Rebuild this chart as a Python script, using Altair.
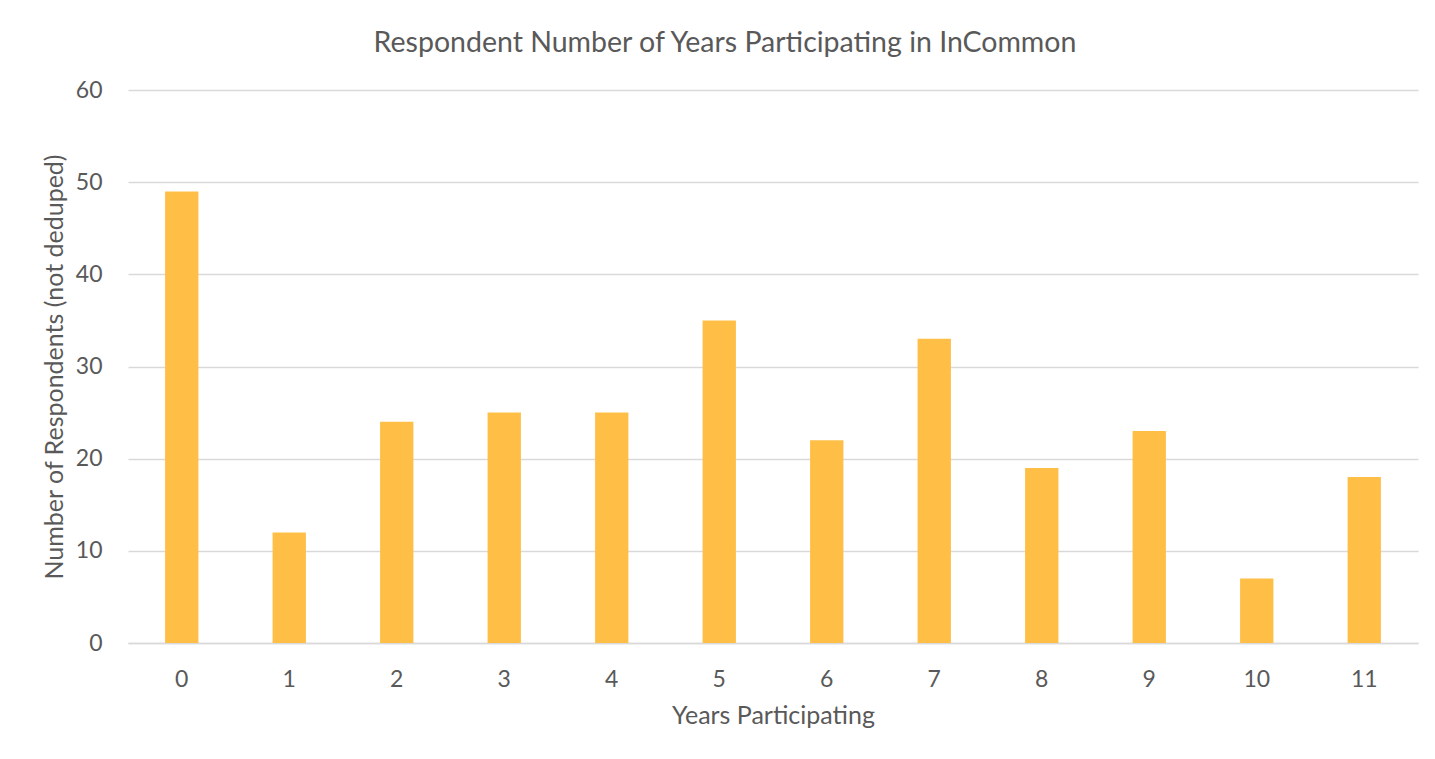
import altair as alt
import pandas as pd

years = ["0", "1", "2", "3", "4", "5", "6", "7", "8", "9", "10", "11"]
respondents = [49, 12, 24, 25, 25, 35, 22, 33, 19, 23, 7, 18]

df = pd.DataFrame({"year": years, "count": respondents})

FONT = "Lato"
TXT = "#595959"

chart = alt.Chart(df).mark_bar(color="#FFBF47").encode(
    x=alt.X("year:N", sort=years,
            scale=alt.Scale(paddingInner=0.69, paddingOuter=0.345),
            axis=alt.Axis(title="Years Participating", labelAngle=0, labelPadding=25,
                          ticks=False, domainColor="#D9D9D9", domainWidth=1.5,
                          labelFontSize=23, labelColor=TXT, labelFont=FONT,
                          titleFontSize=25, titleColor=TXT, titleFont=FONT,
                          titleFontWeight="normal", titlePadding=12)),
    y=alt.Y("count:Q", scale=alt.Scale(domain=[0, 60]),
            axis=alt.Axis(title="Number of Respondents (not deduped)", values=[0, 10, 20, 30, 40, 50, 60],
                          ticks=False, domain=False, gridColor="#D9D9D9", gridWidth=1.5,
                          labelPadding=26, labelFontSize=23, labelColor=TXT, labelFont=FONT,
                          titleFontSize=25, titleColor=TXT, titleFont=FONT,
                          titleFontWeight="normal", titlePadding=8)),
).properties(
    width=1290, height=553,
    title=alt.TitleParams("Respondent Number of Years Participating in InCommon",
                          fontSize=28.5, color=TXT, font=FONT, fontWeight="normal",
                          offset=22, dx=-48),
    autosize=alt.AutoSizeParams(type="none"),
    padding={"left": 120, "top": 82, "right": 9, "bottom": 100},
).configure_view(stroke=None)

chart.save("out.html", embed_options={"renderer": "svg", "actions": False})
